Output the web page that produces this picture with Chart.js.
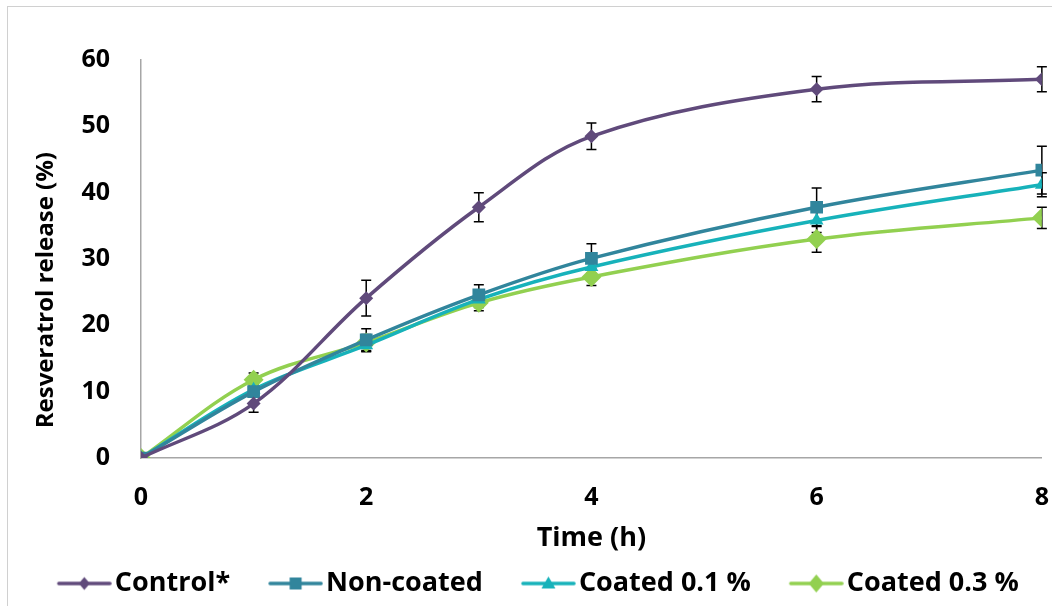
<!DOCTYPE html>
<html><head><meta charset="utf-8">
<script src="https://cdn.jsdelivr.net/npm/chart.js@4"></script>
<style>
html,body{margin:0;padding:0;background:#fff;}
#wrap{position:relative;width:1052px;height:606px;overflow:hidden;}
#frame{position:absolute;left:7px;top:6px;width:1060px;height:620px;border:1px solid #d0d0d0;box-sizing:border-box;}
canvas{position:absolute;left:0;top:0;}
</style></head><body>
<div id="wrap"><div id="frame"></div><canvas id="c" width="1052" height="606"></canvas></div>
<script>
const timePoints = [0, 1, 2, 3, 4, 6, 8];
const seriesNames = ["Control*", "Non-coated", "Coated 0.1 %", "Coated 0.3 %"];
const control = [0, 8.2, 24.1, 37.8, 48.5, 55.6, 57.1];
const nonCoated = [0, 10.0, 17.8, 24.6, 30.1, 37.8, 43.4];
const coated01 = [0, 10.3, 17.0, 23.9, 28.8, 35.8, 41.2];
const coated03 = [0, 11.8, 17.4, 23.4, 27.3, 33.0, 36.2];
const controlErr = [0, 1.3, 2.7, 2.2, 2.0, 1.9, 1.9];
const nonCoatedErr = [0, 0.8, 1.7, 1.5, 2.2, 2.9, 3.6];
const coated01Err = [0, 0.8, 1.0, 1.2, 1.5, 1.8, 1.8];
const coated03Err = [0, 1.0, 1.2, 1.2, 1.3, 2.0, 1.6];
const xTicks = [0, 2, 4, 6, 8];
const yTicks = [0, 10, 20, 30, 40, 50, 60];

const colors = ["#604A7B", "#31859C", "#17B2BA", "#92D050"];
const styles = ["rectRot", "rect", "triangle", "rectRot"];
const radii = [7, 9, 8, 10];
const values = [control, nonCoated, coated01, coated03];
const errors = [controlErr, nonCoatedErr, coated01Err, coated03Err];

const FONT = "'Open Sans'";

function legendIcon(i){
  const W = 77, H = 22, L = 55;
  const cv = document.createElement('canvas');
  cv.width = W; cv.height = H;
  const g = cv.getContext('2d');
  const x0 = W - L, cx = W - L/2, cy = H/2;
  g.strokeStyle = colors[i]; g.lineWidth = 3.5; g.lineCap = 'round';
  g.beginPath(); g.moveTo(x0 + 2, cy); g.lineTo(W - 2, cy); g.stroke();
  g.fillStyle = colors[i];
  g.beginPath();
  if (styles[i] === "rectRot"){ const r = i === 3 ? 9 : 6.5; g.moveTo(cx, cy - r); g.lineTo(cx + r*0.85, cy); g.lineTo(cx, cy + r); g.lineTo(cx - r*0.85, cy); }
  else if (styles[i] === "rect"){ g.rect(cx - 6, cy - 6, 12, 12); }
  else { g.moveTo(cx, cy - 7); g.lineTo(cx + 7, cy + 5); g.lineTo(cx - 7, cy + 5); }
  g.closePath(); g.fill();
  return cv;
}
const icons = [0, 1, 2, 3].map(legendIcon);

const errorBars = {
  id: 'errorBars',
  beforeDatasetsDraw(chart){
    const {ctx, scales: {x, y}} = chart;
    ctx.save();
    ctx.strokeStyle = '#000'; ctx.lineWidth = 1.5;
    errors.forEach((errs, s) => {
      errs.forEach((e, k) => {
        if (!e) return;
        const px = x.getPixelForValue(timePoints[k]);
        const top = y.getPixelForValue(values[s][k] + e);
        const bot = y.getPixelForValue(values[s][k] - e);
        ctx.beginPath();
        ctx.moveTo(px, top); ctx.lineTo(px, bot);
        ctx.moveTo(px - 5, top); ctx.lineTo(px + 5, top);
        ctx.moveTo(px - 5, bot); ctx.lineTo(px + 5, bot);
        ctx.stroke();
      });
    });
    ctx.restore();
  }
};

const datasets = seriesNames.map((name, i) => ({
  label: name,
  data: timePoints.map((t, k) => ({x: t, y: values[i][k]})),
  borderColor: colors[i],
  backgroundColor: colors[i],
  borderWidth: 3.5,
  pointStyle: styles[i],
  pointRadius: radii[i],
  pointBorderWidth: 0,
  pointBackgroundColor: colors[i],
  tension: 0.35,
  fill: false
}));

const hiddenTicks = (len) => ({ display: true, drawOnChartArea: false, drawTicks: true, tickLength: len, color: 'rgba(0,0,0,0)' });

new Chart(document.getElementById('c'), {
  type: 'line',
  data: { datasets },
  plugins: [errorBars],
  options: {
    responsive: false,
    animation: false,
    layout: { padding: { left: 12, right: 0, top: 60, bottom: -1 } },
    plugins: {
      tooltip: { enabled: false },
      legend: {
        position: 'bottom',
        labels: {
          usePointStyle: true,
          pointStyleWidth: 56,
          boxHeight: 20,
          padding: 26.5,
          color: '#000',
          font: { family: FONT, size: 27, weight: 'bold' },
          generateLabels(chart){
            return chart.data.datasets.map((d, i) => ({
              text: d.label, fillStyle: colors[i], strokeStyle: colors[i],
              pointStyle: icons[i], lineWidth: 0, datasetIndex: i, hidden: false
            }));
          }
        }
      }
    },
    scales: {
      x: {
        type: 'linear', min: 0, max: 8,
        afterBuildTicks(s){ s.ticks = xTicks.map(v => ({value: v})); },
        afterFit(s){ s.height = 85.5; },
        grid: hiddenTicks(22),
        border: { color: '#a6a6a6', width: 1.5 },
        ticks: { color: '#000', padding: 3, font: { family: FONT, size: 25, weight: 'bold' } },
        title: { display: true, text: 'Time (h)', color: '#000', padding: { top: 0, bottom: -10.7 }, font: { family: FONT, size: 27, weight: 'bold' } }
      },
      y: {
        min: 0, max: 60,
        afterBuildTicks(s){ s.ticks = yTicks.map(v => ({value: v})); },
        afterFit(s){ s.width = 129; },
        grid: hiddenTicks(28),
        border: { color: '#a6a6a6', width: 1.5 },
        ticks: { color: '#000', padding: 3, font: { family: FONT, size: 25, weight: 'bold' } },
        title: { display: true, text: 'Resveratrol release (%)          ', color: '#000', padding: { top: 20, bottom: 0 }, font: { family: FONT, size: 24, weight: 'bold' } }
      }
    }
  }
});
</script>
</body></html>
